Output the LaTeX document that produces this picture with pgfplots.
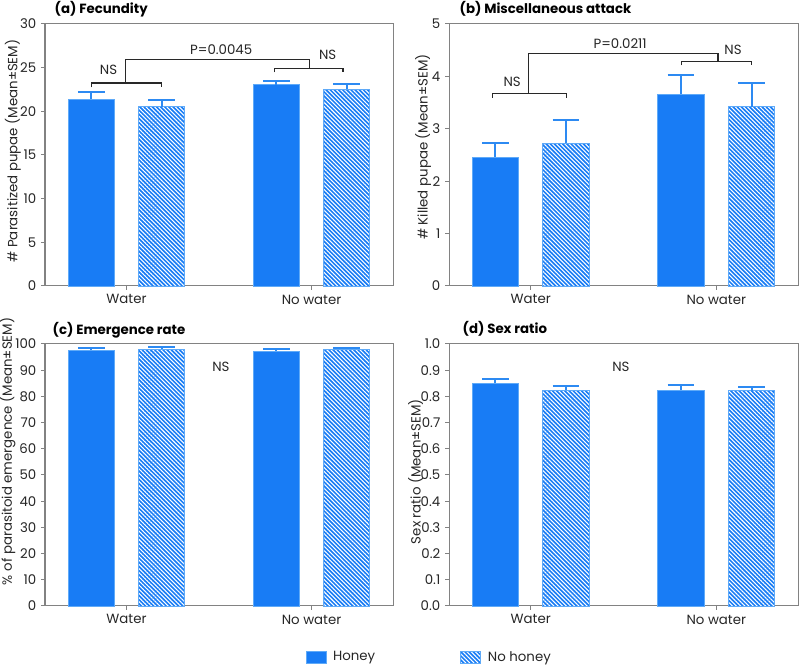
\documentclass[border=0pt]{standalone}
\usepackage{fontspec}
\setmainfont{Poppins}
\usepackage{pgfplots}
\pgfplotsset{compat=1.18}
\usetikzlibrary{patterns.meta}
\definecolor{barblue}{RGB}{24,124,245}
\definecolor{edgeblue}{RGB}{95,170,248}
\definecolor{errblue}{RGB}{45,138,242}
\definecolor{framegray}{RGB}{130,130,130}
\definecolor{brk}{RGB}{40,40,40}
\tikzset{
 ttl/.style={anchor=base west, font=\bfseries\fontsize{10}{12}\selectfont},
 ann/.style={font=\fontsize{10}{12}\selectfont, text=black!85},
}
\pgfplotsset{
 panel/.style={
   scale only axis, width=261pt, height=196.5pt,
   axis line style={framegray, line width=0.75pt},
   xmin=-0.44, xmax=1.44, ymin=0,
   xtick={0,1}, xticklabels={Water, No water},
   tick style={framegray, line width=0.75pt},
   tick align=outside, major tick length=3pt,
   xtick pos=bottom, ytick pos=left,
   tick label style={font=\fontsize{10}{12}\selectfont, text=black!85},
   ylabel style={font=\fontsize{10}{12}\selectfont, text=black!85, anchor=center},
   /pgf/number format/assume math mode=true,
   clip=false,
 },
 honey/.style={ybar, bar width=0.25, bar shift=-0.19, fill=barblue, draw=edgeblue, line width=0.6pt},
 nohoney/.style={ybar, bar width=0.25, bar shift=0.19, fill=barblue, draw=edgeblue, line width=0.6pt,
   postaction={pattern={Lines[angle=-45,distance=2.2pt,line width=0.8pt]}, pattern color=white}},
 errs/.style={no markers, draw=none, forget plot,
   error bars/.cd, y dir=plus, y explicit,
   error bar style={draw=errblue, line width=1.4pt},
   error mark options={draw=errblue, line width=1.4pt, mark size=10pt, rotate=90}},
}
\begin{document}
\begin{tikzpicture}
\useasboundingbox (0,0) rectangle (600pt,499.5pt);
% (a)
\begin{axis}[panel, at={(33.75pt,285pt)}, anchor=south west,
  ymax=30, ytick={0,5,...,30},
  ylabel={\# Parasitized pupae (Mean±SEM)},
  ylabel style={at={(axis description cs:-0.092,0.515)}}]
\addplot[honey] coordinates {(0,21.37) (1,23.05)};
\addplot[nohoney] coordinates {(0,20.53) (1,22.52)};
\addplot[errs] coordinates {(-0.19,21.37) +- (0,0.81) (0.81,23.05) +- (0,0.42)};
\addplot[errs] coordinates {(0.19,20.53) +- (0,0.77) (1.19,22.52) +- (0,0.61)};
\draw[brk, line width=0.8pt] (axis cs:-0.19,22.75) |- (axis cs:0.19,23.24) -- (axis cs:0.19,22.75);
\draw[brk, line width=0.8pt] (axis cs:0.80,24.47) |- (axis cs:1.17,24.88) -- (axis cs:1.17,24.47);
\draw[brk, line width=0.8pt] (axis cs:-0.005,23.24) |- (axis cs:0.99,25.95) -- (axis cs:0.99,24.88);
\node[ann] at (axis cs:-0.097,24.7) {NS};
\node[ann] at (axis cs:0.512,27.1) {P=0.0045};
\node[ann] at (axis cs:1.087,26.45) {NS};
\node[ttl, xshift=3.75pt, yshift=7.5pt] at (rel axis cs:0,1) {(a) Fecundity};
\end{axis}
% (b)
\begin{axis}[panel, at={(336.75pt,285pt)}, anchor=south west, width=261.75pt,
  ymax=5, ytick={0,1,...,5},
  ylabel={\# Killed pupae (Mean±SEM)},
  ylabel style={at={(axis description cs:-0.074,0.53)}}]
\addplot[honey] coordinates {(0,2.46) (1,3.66)};
\addplot[nohoney] coordinates {(0,2.72) (1,3.42)};
\addplot[errs] coordinates {(-0.19,2.46) +- (0,0.27) (0.81,3.66) +- (0,0.37)};
\addplot[errs] coordinates {(0.19,2.72) +- (0,0.45) (1.19,3.42) +- (0,0.45)};
\draw[brk, line width=0.8pt] (axis cs:-0.205,3.59) |- (axis cs:0.193,3.68) -- (axis cs:0.193,3.59);
\draw[brk, line width=0.8pt] (axis cs:0.814,4.21) |- (axis cs:1.187,4.29) -- (axis cs:1.187,4.21);
\draw[brk, line width=0.8pt] (axis cs:-0.012,3.68) |- (axis cs:1.009,4.43) -- (axis cs:1.009,4.29);
\node[ann] at (axis cs:-0.10,3.9) {NS};
\node[ann] at (axis cs:0.482,4.63) {P=0.0211};
\node[ann] at (axis cs:1.09,4.5) {NS};
\node[ttl, xshift=4.5pt, yshift=7.5pt] at (rel axis cs:0,1) {(b) Miscellaneous attack};
\end{axis}
% (c)
\begin{axis}[panel, at={(33.75pt,45pt)}, anchor=south west,
  ymax=100, ytick={0,10,...,100},
  ylabel={\% of parasitoid emergence (Mean±SEM)},
  ylabel style={at={(axis description cs:-0.108,0.59)}},
  legend style={at={(axis description cs:1.105,-0.195)}, anchor=center, draw=none, fill=none,
    legend columns=2, font=\fontsize{10}{12}\selectfont, text=black!85,
    /tikz/every odd column/.append style={column sep=3pt},
    /tikz/every even column/.append style={column sep=62pt}},
  legend image code/.code={\draw[#1] (0pt,-4.5pt) rectangle (15pt,4.5pt);}]
\addplot[honey] coordinates {(0,97.7) (1,97.3)};
\addlegendentry{Honey}
\addplot[nohoney] coordinates {(0,98.0) (1,98.0)};
\addlegendentry{No honey}
\addplot[errs] coordinates {(-0.19,97.7) +- (0,0.8) (0.81,97.3) +- (0,0.9)};
\addplot[errs] coordinates {(0.19,98.0) +- (0,0.7) (1.19,98.0) +- (0,0.6)};
\node[ann] at (axis cs:0.51,91.3) {NS};
\node[ttl, xshift=2.25pt, yshift=6.75pt] at (rel axis cs:0,1) {(c) Emergence rate};
\end{axis}
% (d)
\begin{axis}[panel, at={(336.75pt,45pt)}, anchor=south west, width=261.75pt,
  ymax=1, ytick={0,0.1,...,1.0},
  yticklabel style={/pgf/number format/.cd, fixed, fixed zerofill, precision=1},
  ylabel={Sex ratio (Mean±SEM)},
  ylabel style={at={(axis description cs:-0.0955,0.513)}}]
\addplot[honey] coordinates {(0,0.850) (1,0.824)};
\addplot[nohoney] coordinates {(0,0.824) (1,0.822)};
\addplot[errs] coordinates {(-0.19,0.850) +- (0,0.016) (0.81,0.824) +- (0,0.020)};
\addplot[errs] coordinates {(0.19,0.824) +- (0,0.017) (1.19,0.822) +- (0,0.014)};
\node[ann] at (axis cs:0.486,0.913) {NS};
\node[ttl, xshift=6.75pt, yshift=8pt] at (rel axis cs:0,1) {(d) Sex ratio};
\end{axis}
\end{tikzpicture}
\end{document}
